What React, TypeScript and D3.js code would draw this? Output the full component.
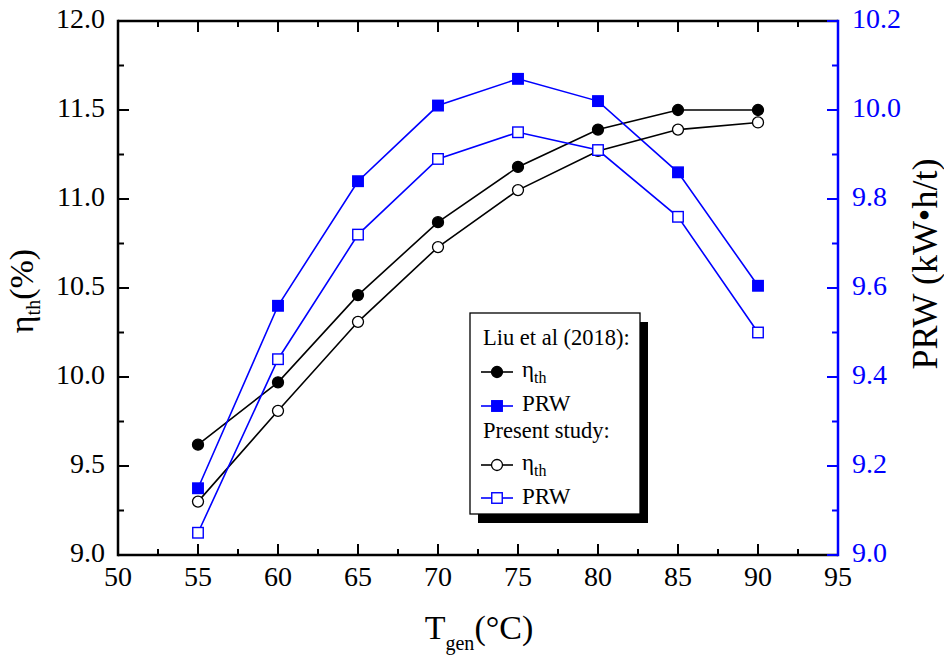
import React from "react";
import * as d3 from "d3";

const temps = [55, 60, 65, 70, 75, 80, 85, 90];
const liuEta = [9.62, 9.97, 10.46, 10.87, 11.18, 11.39, 11.5, 11.5];
const liuPRW = [9.15, 9.56, 9.84, 10.01, 10.07, 10.02, 9.86, 9.605];
const presentEta = [9.3, 9.81, 10.31, 10.73, 11.05, 11.27, 11.39, 11.43];
const presentPRW = [9.05, 9.44, 9.72, 9.89, 9.95, 9.91, 9.76, 9.5];

const xTicks = [50, 55, 60, 65, 70, 75, 80, 85, 90, 95];
const xMinor = [52.5, 57.5, 62.5, 67.5, 72.5, 77.5, 82.5, 87.5, 92.5];
const yLeftTicks = [9.0, 9.5, 10.0, 10.5, 11.0, 11.5, 12.0];
const yLeftMinor = [9.25, 9.75, 10.25, 10.75, 11.25, 11.75];
const yRightTicks = [9.0, 9.2, 9.4, 9.6, 9.8, 10.0, 10.2];
const yRightMinor = [9.1, 9.3, 9.5, 9.7, 9.9, 10.1];

const FONT = "'Liberation Serif', 'Times New Roman', Tinos, 'DejaVu Serif', serif";
const BLUE = "#0000ff";

export default function App() {
  const L = 118, R = 838, T = 21, B = 555;
  const x = d3.scaleLinear().domain([50, 95]).range([L, R]);
  const yL = d3.scaleLinear().domain([9, 12]).range([B, T]);
  const yR = d3.scaleLinear().domain([9, 10.2]).range([B, T]);

  const lineL = d3
    .line<number>()
    .x((_, i) => x(temps[i]))
    .y((d) => yL(d));
  const lineR = d3
    .line<number>()
    .x((_, i) => x(temps[i]))
    .y((d) => yR(d));

  const MAJ = 11, MIN = 6, AW = 2.5;
  const r = 5.5, s = 10.5;
  const ts = { fontFamily: FONT };

  const circles = (vals: number[], fill: string) =>
    vals.map((v, i) => (
      <circle key={i} cx={x(temps[i])} cy={yL(v)} r={r} fill={fill} stroke="#000" strokeWidth={1.3} />
    ));
  const squares = (vals: number[], fill: string) =>
    vals.map((v, i) => (
      <rect key={i} x={x(temps[i]) - s / 2} y={yR(v) - s / 2} width={s} height={s} fill={fill} stroke={BLUE} strokeWidth={1.4} />
    ));

  const lgX = 470, lgY = 313, lgW = 170, lgH = 201;
  const symX1 = 481, symX2 = 513, symC = 497, txtX = 522;

  return (
    <svg width={944} height={662} style={{ position: "absolute", left: 0, top: 0, background: "#fff", fontFamily: FONT }}>
      <rect x={0} y={0} width={944} height={662} fill="#fff" />
      <path d={lineL(liuEta) || ""} fill="none" stroke="#000" strokeWidth={1.6} />
      {circles(liuEta, "#000")}
      <path d={lineR(liuPRW) || ""} fill="none" stroke={BLUE} strokeWidth={1.6} />
      {squares(liuPRW, BLUE)}
      <path d={lineL(presentEta) || ""} fill="none" stroke="#000" strokeWidth={1.6} />
      {circles(presentEta, "#fff")}
      <path d={lineR(presentPRW) || ""} fill="none" stroke={BLUE} strokeWidth={1.6} />
      {squares(presentPRW, "#fff")}

      <line x1={L} x2={R} y1={B} y2={B} stroke="#000" strokeWidth={AW} />
      <line x1={L} x2={R} y1={T} y2={T} stroke="#000" strokeWidth={AW} />
      {xTicks.map((t) => (
        <g key={"xt" + t}>
          <line x1={x(t)} x2={x(t)} y1={B} y2={B - MAJ} stroke="#000" strokeWidth={2} />
          <line x1={x(t)} x2={x(t)} y1={T} y2={T + MAJ} stroke="#000" strokeWidth={2} />
          <text x={x(t)} y={B + 31} fontSize={28} textAnchor="middle" fill="#000" style={ts}>
            {t}
          </text>
        </g>
      ))}
      {xMinor.map((t) => (
        <g key={"xm" + t}>
          <line x1={x(t)} x2={x(t)} y1={B} y2={B - MIN} stroke="#000" strokeWidth={2} />
          <line x1={x(t)} x2={x(t)} y1={T} y2={T + MIN} stroke="#000" strokeWidth={2} />
        </g>
      ))}

      <line x1={L} x2={L} y1={T - 1.25} y2={B + 1.25} stroke="#000" strokeWidth={AW} />
      {yLeftTicks.map((t) => (
        <g key={"yl" + t}>
          <line x1={L} x2={L + MAJ} y1={yL(t)} y2={yL(t)} stroke="#000" strokeWidth={2} />
          <text x={105} y={yL(t) + 7} fontSize={28} textAnchor="end" fill="#000" style={ts}>
            {t.toFixed(1)}
          </text>
        </g>
      ))}
      {yLeftMinor.map((t) => (
        <line key={"ylm" + t} x1={L} x2={L + MIN} y1={yL(t)} y2={yL(t)} stroke="#000" strokeWidth={2} />
      ))}

      <line x1={R} x2={R} y1={T - 1.25} y2={B + 1.25} stroke={BLUE} strokeWidth={AW} />
      {yRightTicks.map((t) => (
        <g key={"yr" + t}>
          <line x1={R} x2={R - MAJ} y1={yR(t)} y2={yR(t)} stroke={BLUE} strokeWidth={2} />
          <text x={852} y={yR(t) + 7} fontSize={28} textAnchor="start" fill={BLUE} style={ts}>
            {t.toFixed(1)}
          </text>
        </g>
      ))}
      {yRightMinor.map((t) => (
        <line key={"yrm" + t} x1={R} x2={R - MIN} y1={yR(t)} y2={yR(t)} stroke={BLUE} strokeWidth={2} />
      ))}

      <text transform="translate(33,291) rotate(-90)" fontSize={34} textAnchor="middle" fill="#000" style={ts}>
        η<tspan fontSize={20} dy={7}>th</tspan>
        <tspan dy={-7}>(%)</tspan>
      </text>
      <text transform="translate(937,264) rotate(-90)" fontSize={36} textAnchor="middle" fill="#000" style={ts}>
        PRW (kW•h/t)
      </text>
      <text x={479} y={639} fontSize={34} textAnchor="middle" fill="#000" style={ts}>
        T<tspan fontSize={20} dy={11}>gen</tspan>
        <tspan dy={-11}>(°C)</tspan>
      </text>

      <rect x={lgX + 8} y={lgY + 9} width={lgW} height={lgH} fill="#000" />
      <rect x={lgX} y={lgY} width={lgW} height={lgH} fill="#fff" stroke="#000" strokeWidth={1.3} />
      <text x={483} y={345} fontSize={22.5} fill="#000" style={ts}>Liu et al (2018):</text>

      <line x1={symX1} x2={symX2} y1={372} y2={372} stroke="#000" strokeWidth={1.6} />
      <circle cx={symC} cy={372} r={r} fill="#000" stroke="#000" strokeWidth={1.3} />
      <text x={txtX} y={377} fontSize={23} fill="#000" style={ts}>
        η<tspan fontSize={16} dy={6}>th</tspan>
      </text>

      <line x1={symX1} x2={symX2} y1={406} y2={406} stroke={BLUE} strokeWidth={1.6} />
      <rect x={symC - s / 2} y={406 - s / 2} width={s} height={s} fill={BLUE} stroke={BLUE} strokeWidth={1.4} />
      <text x={txtX} y={411} fontSize={23} fill="#000" style={ts}>PRW</text>

      <text x={483} y={438} fontSize={22.5} fill="#000" style={ts}>Present study:</text>

      <line x1={symX1} x2={symX2} y1={465} y2={465} stroke="#000" strokeWidth={1.6} />
      <circle cx={symC} cy={465} r={r} fill="#fff" stroke="#000" strokeWidth={1.3} />
      <text x={txtX} y={470} fontSize={23} fill="#000" style={ts}>
        η<tspan fontSize={16} dy={6}>th</tspan>
      </text>

      <line x1={symX1} x2={symX2} y1={498} y2={498} stroke={BLUE} strokeWidth={1.6} />
      <rect x={symC - s / 2} y={498 - s / 2} width={s} height={s} fill="#fff" stroke={BLUE} strokeWidth={1.4} />
      <text x={txtX} y={504} fontSize={23} fill="#000" style={ts}>PRW</text>
    </svg>
  );
}
